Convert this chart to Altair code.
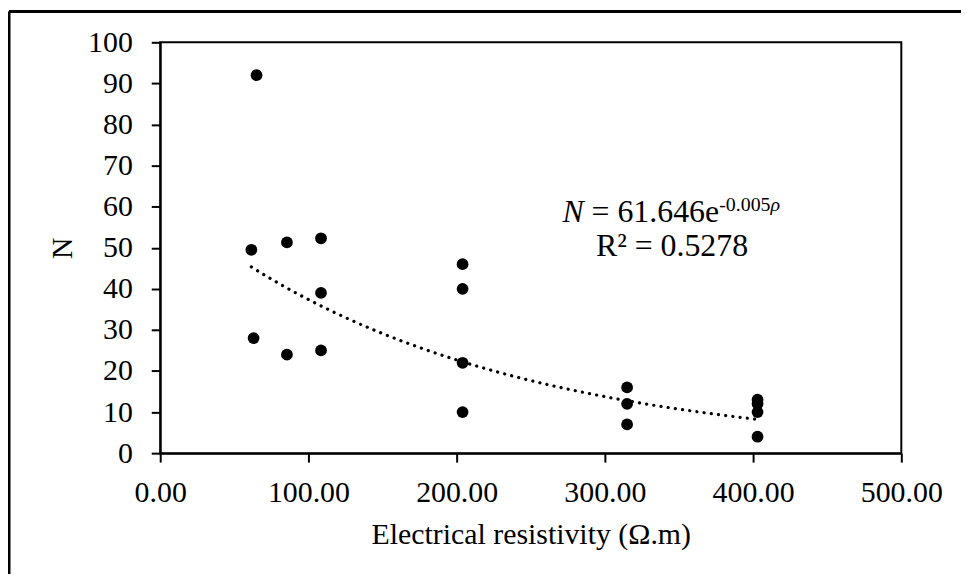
import altair as alt
import pandas as pd

# ---- data ----
rho = [65, 61.5, 63, 85.5, 85.5, 108.5, 108.5, 108.5,
       204, 204, 204, 204, 315, 315, 315, 403, 403, 403, 403]
N = [92, 49.5, 28, 51.3, 24, 52.3, 39, 25,
     46, 40, 22, 10, 16, 12, 7, 13, 12, 10, 4]

x_ticks = [0, 100, 200, 300, 400, 500]
y_ticks = [0, 10, 20, 30, 40, 50, 60, 70, 80, 90, 100]

# trendline coefficients as printed on the chart
TREND_A = 61.646
TREND_B = -0.005

FONT = "Liberation Serif"

df = pd.DataFrame({"rho": rho, "N": N})

xscale = alt.Scale(domain=[0, 500], nice=False, zero=False)
yscale = alt.Scale(domain=[0, 100], nice=False)

xenc = alt.X("rho:Q", scale=xscale,
             axis=alt.Axis(values=x_ticks, format=".2f",
                           title="Electrical resistivity (Ω.m)",
                           titleY=91, titleBaseline="alphabetic",
                           labelPadding=16))
yenc = alt.Y("N:Q", scale=yscale,
             axis=alt.Axis(values=y_ticks, format="d", title="N",
                           titleAngle=270, titleX=-89, titleY=206.5,
                           titleAlign="center", titleBaseline="alphabetic",
                           labelPadding=19, labelBaseline="middle"))

points = alt.Chart(df).mark_circle(size=140, color="black", opacity=1).encode(
    x=xenc, y=yenc)

trend = alt.Chart(alt.sequence(min(rho), max(rho) + 0.5, 2, as_="rho")).transform_calculate(
    N=f"{TREND_A} * exp({TREND_B} * datum.rho)"
).mark_line(color="black", strokeDash=[0.1, 7.2], strokeCap="round",
            strokeWidth=3.2).encode(x=xenc, y=yenc)

ann_x = 345.3
ann1 = pd.DataFrame({"rho": [ann_x], "N": [56.2]})
ann2 = pd.DataFrame({"rho": [ann_x], "N": [47.9]})

def piece(d, text, size, dx, dy=0, italic=False, align="left"):
    return alt.Chart(d).mark_text(
        text=text, font=FONT, fontSize=size, align=align, baseline="alphabetic",
        dx=dx, dy=dy, color="black", fontStyle="italic" if italic else "normal"
    ).encode(x=alt.X("rho:Q", scale=xscale), y=alt.Y("N:Q", scale=yscale))

t_N = piece(ann1, "N", 32, -110.2, italic=True)
t_eq = piece(ann1, "= 61.646e", 32, -80.9)
t_sup = piece(ann1, "-0.005", 20, 47.4, dy=-11)
t_rho = piece(ann1, "ρ", 20, 99.1, dy=-11, italic=True)
t_r2 = piece(ann2, "R² = 0.5278", 32, 0, align="center")

one = pd.DataFrame({"a": [0]})
frame_top = alt.Chart(one).mark_rule(color="black", strokeWidth=3).encode(
    x=alt.value(-152), x2=alt.value(900), y=alt.value(-31))
frame_left = alt.Chart(one).mark_rule(color="black", strokeWidth=3).encode(
    x=alt.value(-152), y=alt.value(-31), y2=alt.value(600))

chart = alt.layer(
    trend, points, t_N, t_eq, t_sup, t_rho, t_r2, frame_top, frame_left
).properties(
    width=745, height=413,
    padding={"left": 153, "top": 33, "right": 60, "bottom": 120},
    autosize=alt.AutoSizeParams(type="none"),
    background="white",
).configure_view(
    stroke="black", strokeWidth=2
).configure_axis(
    grid=False, domainColor="black", domainWidth=2, tickColor="black",
    tickWidth=2, tickSize=9, labelFont=FONT, labelFontSize=30,
    labelColor="black", titleFont=FONT, titleFontSize=30,
    titleColor="black", titleFontWeight="normal", labelOverlap=False,
    labelFlush=False
)

chart.save("out.html", embed_options={"renderer": "svg", "actions": False})
